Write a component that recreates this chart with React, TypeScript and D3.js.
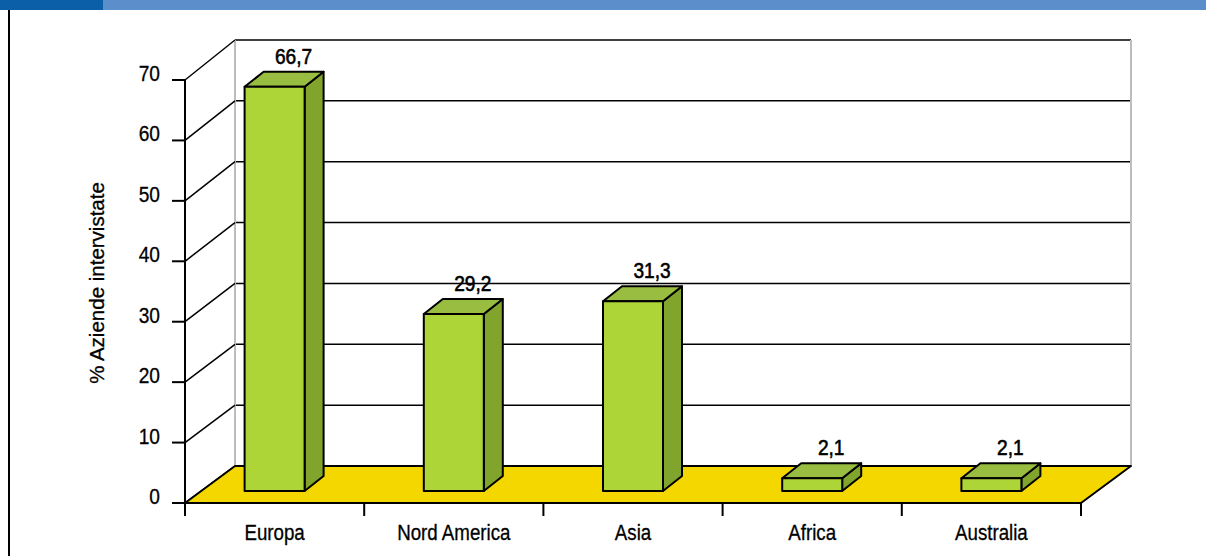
import React from "react";
import * as d3 from "d3";

const categories = ["Europa", "Nord America", "Asia", "Africa", "Australia"];
const values = [66.7, 29.2, 31.3, 2.1, 2.1];
const valueLabels = ["66,7", "29,2", "31,3", "2,1", "2,1"];
const yTicks = [0, 10, 20, 30, 40, 50, 60, 70];
const yTitle = "% Aziende intervistate";

const W = 1206;
const H = 556;
const FONT = "'Liberation Sans', Arial, sans-serif";
const SQUEEZE = 0.87;

export default function App() {
  const x = d3.scaleBand<string>().domain(categories).range([185, 1081]).padding(0);
  const yFront = d3.scaleLinear().domain([0, 70]).range([503, 80]);
  const yBack = d3.scaleLinear().domain([0, 70]).range([466, 40]);
  const yBar = d3.scaleLinear().domain([0, 70]).range([491, 491 - 70 * 6.06]);
  const depthX = 50;
  const barW = 60;
  const barDX = 19;
  const barDY = -15;

  const x0 = x.range()[0];
  const x1 = x.range()[1];
  const bx0 = x0 + depthX;
  const bx1 = x1 + depthX;
  const tickBoundaries = [...categories.map((c) => x(c) as number), x1];

  const squeezed = (tx: number, ty: number) => `translate(${tx},${ty}) scale(${SQUEEZE},1)`;

  return (
    <svg
      width={W}
      height={H}
      style={{ position: "absolute", left: 0, top: 0, background: "#fff" }}
      fontFamily={FONT}
    >
      {/* header band */}
      <rect x={0} y={0} width={W} height={10} fill="#5B8ECB" />
      <rect x={0} y={0} width={103} height={10} fill="#0B5EA8" />
      <line x1={9} y1={10} x2={9} y2={H} stroke="#000" strokeWidth={2} />

      {/* back wall gridlines */}
      {yTicks.map((t) => (
        <line key={"g" + t} x1={bx0} x2={bx1} y1={yBack(t)} y2={yBack(t)} stroke="#000" strokeWidth={1.5} />
      ))}
      <line x1={bx0} x2={bx0} y1={yBack(70)} y2={yBack(0)} stroke="#BDBDBD" strokeWidth={2} />
      <line x1={bx1} x2={bx1} y1={yBack(70)} y2={yBack(0)} stroke="#BDBDBD" strokeWidth={2} />
      {/* side wall diagonals */}
      {yTicks.map((t) => (
        <line key={"d" + t} x1={x0} x2={bx0} y1={yFront(t)} y2={yBack(t)} stroke="#000" strokeWidth={1.5} />
      ))}

      {/* floor */}
      <polygon
        points={`${x0},${yFront(0)} ${x1},${yFront(0)} ${bx1},${yBack(0)} ${bx0},${yBack(0)}`}
        fill="#F5D700"
        stroke="#000"
        strokeWidth={2}
        strokeLinejoin="round"
      />

      {/* bars */}
      {categories.map((c, i) => {
        const cx = (x(c) as number) + x.bandwidth() / 2;
        const l = cx - barW / 2;
        const r = cx + barW / 2;
        const top = yBar(values[i]);
        const bot = yBar(0);
        return (
          <g key={c} stroke="#000" strokeWidth={2} strokeLinejoin="round">
            <polygon
              points={`${r},${top} ${r + barDX},${top + barDY} ${r + barDX},${bot + barDY} ${r},${bot}`}
              fill="#80A42C"
            />
            <polygon
              points={`${l},${top} ${l + barDX},${top + barDY} ${r + barDX},${top + barDY} ${r},${top}`}
              fill="#98BD41"
            />
            <rect x={l} y={top} width={barW} height={bot - top} fill="#ADD538" />
            <text
              transform={squeezed(cx + barDX, top + barDY - 8)}
              textAnchor="middle"
              fontSize={22}
              fill="#000"
              stroke="#000"
              strokeWidth={0.6}
            >
              {valueLabels[i]}
            </text>
          </g>
        );
      })}

      {/* y axis */}
      <line x1={x0} x2={x0} y1={yFront(70)} y2={yFront(0) + 13} stroke="#000" strokeWidth={2} />
      {yTicks.map((t) => (
        <g key={"t" + t}>
          <line x1={x0 - 13} x2={x0} y1={yFront(t)} y2={yFront(t)} stroke="#000" strokeWidth={2} />
          <text
            transform={squeezed(160, yFront(t) + 1)}
            textAnchor="end"
            fontSize={22}
            fill="#000"
            stroke="#000"
            strokeWidth={0.3}
          >
            {t}
          </text>
        </g>
      ))}
      <text
        transform={`translate(104,283) rotate(-90)`}
        textAnchor="middle"
        fontSize={20.5}
        fill="#000"
        stroke="#000"
        strokeWidth={0.3}
      >
        {yTitle}
      </text>

      {/* x axis */}
      {tickBoundaries.map((bx, i) => (
        <line key={"xt" + i} x1={bx} x2={bx} y1={yFront(0)} y2={yFront(0) + 13} stroke="#000" strokeWidth={2} />
      ))}
      {categories.map((c) => (
        <text
          key={"xl" + c}
          transform={squeezed((x(c) as number) + x.bandwidth() / 2, 540)}
          textAnchor="middle"
          fontSize={21.5}
          fill="#000"
          stroke="#000"
          strokeWidth={0.3}
        >
          {c}
        </text>
      ))}
    </svg>
  );
}
